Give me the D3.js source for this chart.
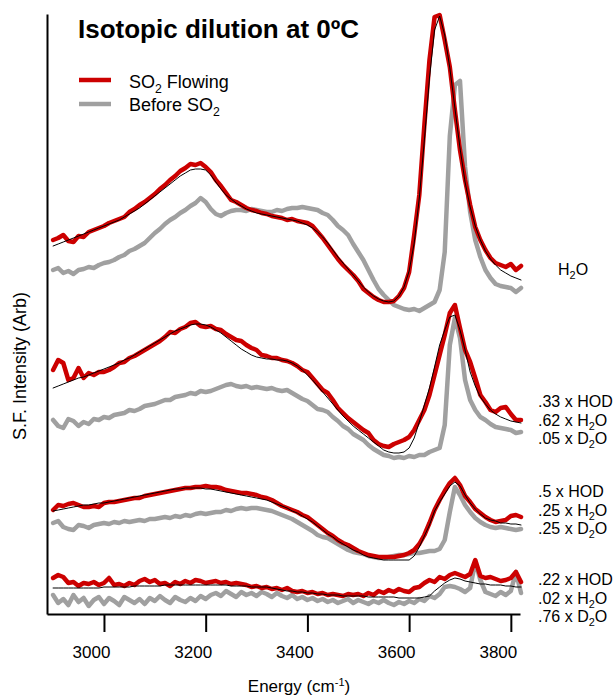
<!DOCTYPE html>
<html>
<head>
<meta charset="utf-8">
<script src="https://d3js.org/d3.v7.min.js"></script>
<style>
    body { margin: 0; background: #fff; }
    text { font-family: "Liberation Sans", Arial, Helvetica, sans-serif; fill: #000; }
</style>
</head>
<body>
<svg id="chart" width="615" height="698"></svg>
<script>
// energy grid (cm-1)
var energy = [2900,2910,2920,2930,2940,2950,2960,2970,2980,2990,
    3000,3010,3020,3030,3040,3050,3060,3070,3080,3090,
    3100,3110,3120,3130,3140,3150,3160,3170,3180,3190,
    3200,3210,3220,3230,3240,3250,3260,3270,3280,3290,
    3300,3310,3320,3330,3340,3350,3360,3370,3380,3390,
    3400,3410,3420,3430,3440,3450,3460,3470,3480,3490,
    3500,3510,3520,3530,3540,3550,3560,3570,3580,3590,
    3600,3610,3620,3630,3640,3650,3660,3670,3680,3690,
    3700,3710,3720,3730,3740,3750,3760,3770,3780,3790,
    3800,3810,3820];

// offset S.F. intensities (arb)
var h2oFlow = [374,376,379,373,372,378,377,382,384,386,
    388,391,393,395,397,402,405,409,412,416,
    420,425,429,434,438,443,446,450,449,451,
    447,442,434,428,421,414,412,409,406,404,
    403,401,400,398,397,396,394,395,393,392,
    391,388,382,376,369,362,355,349,344,339,
    333,325,321,317,314,312,312,313,318,326,
    342,379,419,489,554,597,599,574,547,504,
    464,434,409,387,374,364,356,351,349,347,
    350,344,348];
var h2oFit = [368,370,372,374,376,378,380,382,384,386,
    388,390,392,394,397,400,403,406,410,414,
    418,422,426,430,434,438,441,444,445,445,
    444,439,432,425,419,415,411,408,405,403,
    401,400,399,398,397,396,395,394,393,391,
    389,386,382,377,371,364,357,351,345,339,
    333,327,322,318,315,313,312,313,318,327,
    343,371,416,474,536,584,598,579,546,506,
    466,432,407,388,374,363,355,349,344,341,
    338,336,334];
var h2oBefore = [344,346,341,343,340,344,345,347,346,349,
    351,352,354,357,359,363,365,368,371,376,
    381,385,390,394,397,401,404,408,411,416,
    412,405,400,398,401,403,404,404,403,405,
    404,403,402,402,404,403,405,406,406,407,
    406,405,404,401,399,394,388,384,379,370,
    362,354,344,334,325,319,314,309,307,305,
    304,305,303,306,309,312,324,362,478,529,
    533,447,402,374,357,344,336,330,328,327,
    326,322,326];

var mix1Flow = [244,254,251,234,236,246,236,241,239,242,
    242,244,247,251,252,256,258,261,264,267,
    270,273,277,282,281,285,287,291,292,288,
    287,288,285,284,280,277,274,273,269,266,
    264,259,258,256,256,254,253,251,248,244,
    242,236,230,224,221,214,206,201,196,192,
    188,184,181,174,170,168,167,170,172,174,
    177,184,194,204,219,239,259,279,301,309,
    286,264,252,236,219,212,204,202,206,207,
    200,194,194];
var mix1Fit = [226,228,230,232,234,236,237,239,241,243,
    245,247,249,251,254,256,259,262,265,268,
    271,274,277,280,283,285,287,289,290,290,
    289,287,284,281,277,273,269,265,262,259,
    257,256,255,255,254,254,253,251,248,244,
    239,234,228,222,216,210,204,198,193,188,
    184,180,176,172,168,164,162,161,161,162,
    166,176,192,209,226,247,269,284,297,299,
    284,264,242,228,217,210,204,200,197,195,
    193,192,191];
var mix1Before = [194,188,186,195,193,188,192,190,195,194,
    197,196,199,200,201,204,203,205,208,209,
    210,212,214,214,217,218,219,221,220,223,
    222,223,225,227,229,230,228,227,228,226,
    227,226,225,226,224,223,224,221,218,215,
    213,209,205,204,202,197,193,188,185,180,
    177,174,169,165,162,159,158,156,157,156,
    158,157,159,159,162,164,166,189,269,296,
    276,234,214,204,197,194,190,187,186,185,
    184,181,182];

var mix2Flow = [104,109,108,110,111,109,107,107,108,107,
    111,112,112,113,114,115,116,116,118,119,
    120,121,122,123,124,125,126,126,127,127,
    128,127,127,126,124,123,122,121,121,120,
    119,117,116,114,111,108,106,104,102,99,
    97,93,89,85,81,78,74,71,69,66,
    63,61,59,58,57,57,57,57,58,59,
    61,64,70,79,91,104,114,123,131,136,
    129,118,112,105,101,97,94,92,93,94,
    98,99,97];
var mix2Fit = [103,104,105,106,107,108,109,109,110,111,
    111,112,113,114,115,116,117,118,119,120,
    121,122,123,124,125,125,126,126,126,126,
    125,125,124,123,122,121,120,119,118,117,
    116,115,114,112,110,108,106,103,101,98,
    95,92,88,84,80,77,73,70,67,64,
    62,59,57,56,55,54,54,54,54,54,
    54,58,67,78,89,103,112,120,128,132,
    128,119,111,105,100,96,94,93,91,91,
    90,90,89];
var mix2Before = [91,93,87,85,84,89,88,86,89,90,
    91,90,92,91,93,92,93,94,93,95,
    95,96,97,96,98,97,99,98,100,101,
    100,101,102,102,104,103,105,106,105,106,
    106,105,104,103,101,99,97,95,92,89,
    86,83,79,77,76,73,70,67,64,62,
    61,60,58,57,56,56,57,58,59,59,
    60,61,61,62,63,63,65,74,102,127,
    119,109,102,96,92,89,87,86,87,86,
    85,84,85];

var mix3Flow = [36,39,37,31,32,28,31,30,32,29,
    31,36,29,30,28,31,29,33,35,32,
    34,30,31,28,32,30,33,31,34,33,
    31,32,33,31,32,30,31,30,29,27,
    28,26,27,25,26,24,26,23,22,23,
    21,22,20,21,19,20,19,18,20,19,
    20,18,21,19,23,21,24,22,25,23,
    22,26,27,31,34,32,37,35,39,41,
    39,37,40,54,38,36,37,35,33,34,
    36,42,32];
var mix3Fit = [26,26,26,26,26,26,26,26,26,26,
    27,27,27,27,27,27,28,28,28,28,
    28,28,29,29,29,29,29,29,29,29,
    29,29,29,29,29,28,28,28,28,27,
    27,27,27,26,25,24,23,23,22,22,
    21,21,20,20,19,19,19,18,18,18,
    18,18,17,17,17,17,17,17,16,16,
    16,16,16,17,18,23,27,31,34,36,
    35,33,32,31,30,30,29,29,29,28,
    28,27,27];
var mix3Before = [19,11,15,9,19,12,16,8,14,17,
    10,16,13,9,17,14,11,15,10,16,
    13,18,14,11,17,14,12,16,13,18,
    15,19,21,18,23,20,17,22,19,21,
    18,22,20,17,21,18,16,19,15,17,
    14,16,13,15,12,14,11,13,15,11,
    14,12,10,13,11,14,11,9,12,10,
    13,11,15,13,18,16,20,27,28,27,
    25,22,26,52,34,22,20,18,22,19,
    23,42,21];

var xTicks = [3000, 3200, 3400, 3600, 3800];
var legendNames = ["SO2 Flowing", "Before SO2"];
var compH2O = ["H2O"];
var comp1 = [".33 x HOD", ".62 x H2O", ".05 x D2O"];
var comp2 = [".5 x HOD", ".25 x H2O", ".25 x D2O"];
var comp3 = [".22 x HOD", ".02 x H2O", ".76 x D2O"];

var RED = "#cc0000", GRAY = "#a0a0a0";

var svg = d3.select("#chart");

var x = d3.scaleLinear().domain([2888, 3818]).range([47, 520]);
var y = d3.scaleLinear().domain([0, 600]).range([614, 14]);

var line = d3.line()
    .x(function (d, i) { return x(energy[i]); })
    .y(function (d) { return y(d); });

function trace(values, color, width) {
    svg.append("path")
        .datum(values)
        .attr("fill", "none")
        .attr("stroke", color)
        .attr("stroke-width", width)
        .attr("stroke-linejoin", "round")
        .attr("stroke-linecap", "round")
        .attr("d", line);
}

// before SO2 (grey) under, SO2 flowing (red), fit (black) on top
[h2oBefore, mix1Before, mix2Before, mix3Before].forEach(function (s) { trace(s, GRAY, 4.5); });
[h2oFlow, mix1Flow, mix2Flow, mix3Flow].forEach(function (s) { trace(s, RED, 4.5); });
[h2oFit, mix1Fit, mix2Fit, mix3Fit].forEach(function (s) { trace(s, "#000", 1); });

// axes
var xAxis = svg.append("g")
    .attr("transform", "translate(0,614)")
    .call(d3.axisBottom(x).tickValues(xTicks).tickSize(18).tickSizeOuter(0).tickPadding(14).tickFormat(d3.format("d")));
xAxis.selectAll("path, line").attr("stroke", "#000").attr("stroke-width", 2);
xAxis.selectAll("text").attr("x", -13).style("font-size", "17px").attr("fill", "#000");

var yAxis = svg.append("g")
    .attr("transform", "translate(47,0)")
    .call(d3.axisLeft(y).tickValues([]).tickSizeOuter(0));
yAxis.select("path").attr("stroke", "#000").attr("stroke-width", 2);

// text where a "2" after a capital letter is a subscript (SO2, H2O, D2O)
function label(xp, yp, str, size) {
    var t = svg.append("text").attr("x", xp).attr("y", yp).style("font-size", size + "px");
    var shift = size * 0.28;
    var segs = [], buf = "";
    for (var i = 0; i < str.length; i++) {
        var c = str[i];
        if (c === "2" && i > 0 && /[A-Z]/.test(str[i - 1])) {
            if (buf) segs.push({ s: buf, sub: false });
            segs.push({ s: "2", sub: true });
            buf = "";
        } else {
            buf += c;
        }
    }
    if (buf) segs.push({ s: buf, sub: false });
    var lowered = false;
    segs.forEach(function (g) {
        var ts = t.append("tspan").text(g.s);
        if (g.sub) {
            ts.attr("dy", shift).style("font-size", (size * 0.68) + "px");
            lowered = true;
        } else if (lowered) {
            ts.attr("dy", -shift);
            lowered = false;
        }
    });
    return t;
}

// title
svg.append("text").attr("x", 78).attr("y", 38)
    .style("font-size", "26px").style("font-weight", "bold")
    .text("Isotopic dilution at 0\u00BAC");

// legend
[RED, GRAY].forEach(function (c, i) {
    svg.append("line").attr("x1", 79).attr("x2", 111)
        .attr("y1", 80 + i * 24).attr("y2", 80 + i * 24)
        .attr("stroke", c).attr("stroke-width", 4.5);
    label(129, 88 + i * 23, legendNames[i], 18);
});

// composition labels
label(558, 275, compH2O[0], 16);
[[comp1, 407], [comp2, 497], [comp3, 585]].forEach(function (g) {
    g[0].forEach(function (s, i) { label(538, g[1] + i * 18.5, s, 16); });
});

// axis titles
var xt = svg.append("text").attr("x", 299).attr("y", 692)
    .attr("text-anchor", "middle").style("font-size", "17px");
xt.append("tspan").text("Energy (cm");
xt.append("tspan").attr("dy", -6).style("font-size", "11px").text("-1");
xt.append("tspan").attr("dy", 6).text(")");

svg.append("text")
    .attr("transform", "translate(26,366) rotate(-90)")
    .attr("text-anchor", "middle").style("font-size", "18px")
    .text("S.F. Intensity (Arb)");
</script>
</body>
</html>
